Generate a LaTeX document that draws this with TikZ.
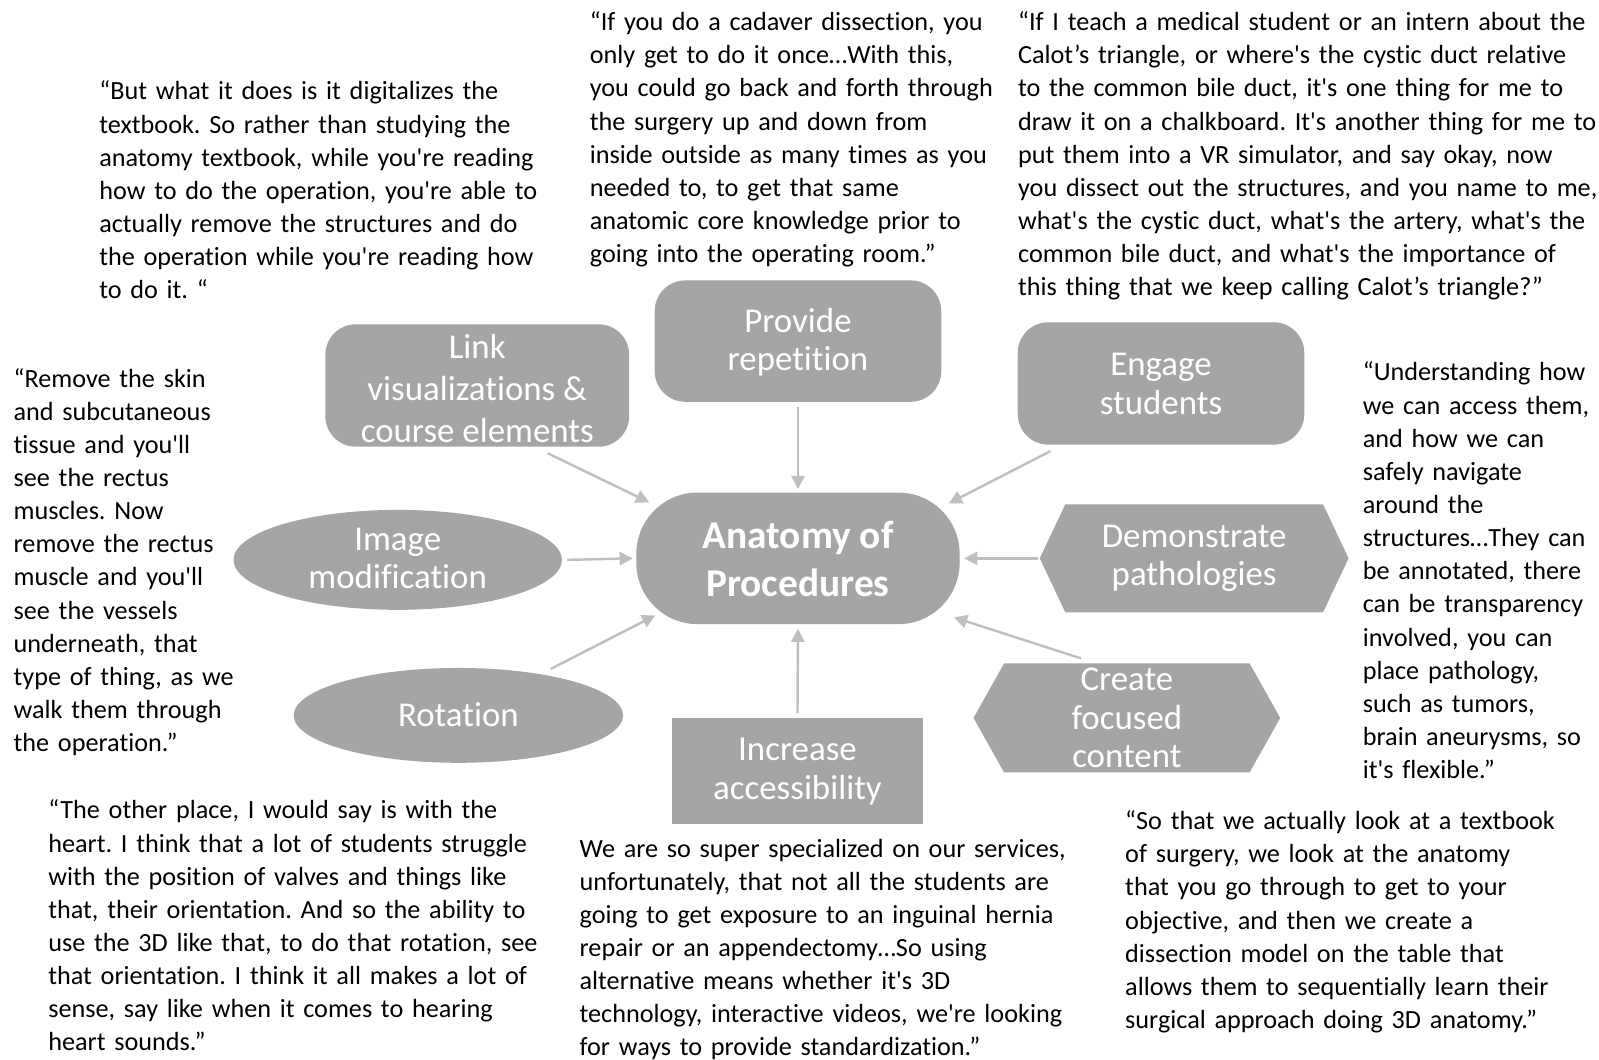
\documentclass[tikz,border=0pt]{standalone}
\usepackage{fontspec}
\setmainfont{Carlito}[Ligatures={TeXOff,NoCommon}]
\usetikzlibrary{shapes.geometric,arrows.meta,calc}
\definecolor{boxgray}{RGB}{165,165,165}
\definecolor{arrgray}{RGB}{191,191,191}
\frenchspacing
\begin{document}
\frenchspacing
\begin{tikzpicture}[x=0.5pt,y=-0.5pt,
  shapebox/.style={fill=boxgray, draw=none, inner sep=0pt},
  rbox/.style={shapebox, rectangle, rounded corners=15pt},
  ebox/.style={shapebox, ellipse},
  ghost/.style={rectangle, inner sep=0pt, draw=none},
  lbl/.style={text=white, align=center, inner sep=0pt, font=\fontsize{17.1}{19}\selectfont},
  quote/.style={anchor=base west, inner sep=0pt, text width=320pt, align=left, font=\fontsize{12.85}{16.25}\selectfont},
  arr/.style={draw=arrgray, line width=1.2pt, -{Triangle[length=6.5pt,width=6.5pt]}}
]
\useasboundingbox (0,0) rectangle (1568,1039);

% central node
\node[rbox, rounded corners=30pt, minimum width=158.5pt, minimum height=64.5pt] (ctr) at (782.5,547.5) {};
\node[lbl, font=\bfseries\fontsize{19.3}{23.5}\selectfont] (ctrt) at (782.5,548) {Anatomy of\\Procedures};

% rounded boxes
\node[rbox, minimum width=149pt, minimum height=60pt] (link) at (468,378) {};
\node[lbl, font=\fontsize{17.1}{20.75}\selectfont] (linkt) at (468,381) {Link\\visualizations \&\\course elements};
\node[rbox, minimum width=140.5pt, minimum height=59.5pt] (prov) at (782.5,334.5) {};
\node[lbl] (provt) at (782.5,335.5) {Provide\\repetition};
\node[rbox, minimum width=140.5pt, minimum height=60pt] (eng) at (1138.5,376) {};
\node[lbl] (engt) at (1138.5,376.5) {Engage\\students};

% ellipses
\node[ebox, minimum width=161pt, minimum height=49pt] (img) at (390,549) {};
\node[lbl] (imgt) at (390,547.5) {Image\\modification};
\node[ebox, minimum width=161.5pt, minimum height=46.5pt] (rot) at (449.5,701.5) {};
\node[lbl] (rott) at (449.5,701) {Rotation};

% hexagons
\node[ghost, minimum width=151pt, minimum height=52.5pt] (demo) at (1171,547.5) {};
\fill[boxgray] (demo.west) -- ($(demo.north west)+(25,0)$) -- ($(demo.north east)+(-25,0)$)
  -- (demo.east) -- ($(demo.south east)+(-25,0)$) -- ($(demo.south west)+(25,0)$) -- cycle;
\node[lbl] (demot) at (1171,547.5) {Demonstrate\\pathologies};
\node[ghost, minimum width=150pt, minimum height=53pt] (cre) at (1105,704) {};
\fill[boxgray] (cre.west) -- ($(cre.north west)+(30,0)$) -- ($(cre.north east)+(-30,0)$)
  -- (cre.east) -- ($(cre.south east)+(-30,0)$) -- ($(cre.south west)+(30,0)$) -- cycle;
\node[lbl] (cret) at (1105,704) {Create\\focused\\content};

% rectangle
\node[shapebox, rectangle, minimum width=123pt, minimum height=52pt] (inc) at (782,756) {};
\node[lbl] (inct) at (782,756.5) {Increase\\accessibility};

% arrows
\draw[arr] ($(link.south)+(69,6)$) -- ($(ctr.north west)+(13,10)$);
\draw[arr] ($(prov.south)+(0,5)$) -- ($(ctr.north)+(0,-3)$);
\draw[arr] ($(eng.south)+(-108.5,6)$) -- ($(ctr.north east)+(-11,11)$);
\draw[arr] ($(img.east)+(5,0)$) -- ($(ctr.west)+(-3,0)$);
\draw[arr] ($(demo.west)+(-2,0)$) -- ($(ctr.east)+(4,0)$);
\draw[arr] ($(rot.center)+(90.5,-45.5)$) -- ($(ctr.south west)+(19,-9)$);
\draw[arr] ($(cre.north)+(-45,-5)$) -- ($(ctr.south east)+(-6,-7)$);
\draw[arr] ($(inc.north)+(0,-4)$) -- ($(ctr.south)+(0,4)$);

% quotes
\node[quote] (qa) at (97,98) {“But what it does is it digitalizes the\\
textbook. So rather than studying the\\
anatomy textbook, while you're reading\\
how to do the operation, you're able to\\
actually remove the structures and do\\
the operation while you're reading how\\
to do it. “};

\node[quote] (qb) at (578,30) {“If you do a cadaver dissection, you\\
only get to do it once…With this,\\
you could go back and forth through\\
the surgery up and down from\\
inside outside as many times as you\\
needed to, to get that same\\
anatomic core knowledge prior to\\
going into the operating room.”};

\node[quote] (qc) at (998,30) {“If I teach a medical student or an intern about the\\
Calot’s triangle, or where's the cystic duct relative\\
to the common bile duct, it's one thing for me to\\
draw it on a chalkboard. It's another thing for me to\\
put them into a VR simulator, and say okay, now\\
you dissect out the structures, and you name to me,\\
what's the cystic duct, what's the artery, what's the\\
common bile duct, and what's the importance of\\
this thing that we keep calling Calot’s triangle?”};

\node[quote] (qd) at (13,379.5) {“Remove the skin\\
and subcutaneous\\
tissue and you'll\\
see the rectus\\
muscles. Now\\
remove the rectus\\
muscle and you'll\\
see the vessels\\
underneath, that\\
type of thing, as we\\
walk them through\\
the operation.”};

\node[quote] (qe) at (1336,373.5) {“Understanding how\\
we can access them,\\
and how we can\\
safely navigate\\
around the\\
structures…They can\\
be annotated, there\\
can be transparency\\
involved, you can\\
place pathology,\\
such as tumors,\\
brain aneurysms, so\\
it's flexible.”};

\node[quote] (qf) at (47,803) {“The other place, I would say is with the\\
heart. I think that a lot of students struggle\\
with the position of valves and things like\\
that, their orientation. And so the ability to\\
use the 3D like that, to do that rotation, see\\
that orientation. I think it all makes a lot of\\
sense, say like when it comes to hearing\\
heart sounds.”};

\node[quote] (qg) at (568,840.5) {We are so super specialized on our services,\\
unfortunately, that not all the students are\\
going to get exposure to an inguinal hernia\\
repair or an appendectomy…So using\\
alternative means whether it's 3D\\
technology, interactive videos, we're looking\\
for ways to provide standardization.”};

\node[quote] (qh) at (1103,813.5) {“So that we actually look at a textbook\\
of surgery, we look at the anatomy\\
that you go through to get to your\\
objective, and then we create a\\
dissection model on the table that\\
allows them to sequentially learn their\\
surgical approach doing 3D anatomy.”};
\end{tikzpicture}
\end{document}
